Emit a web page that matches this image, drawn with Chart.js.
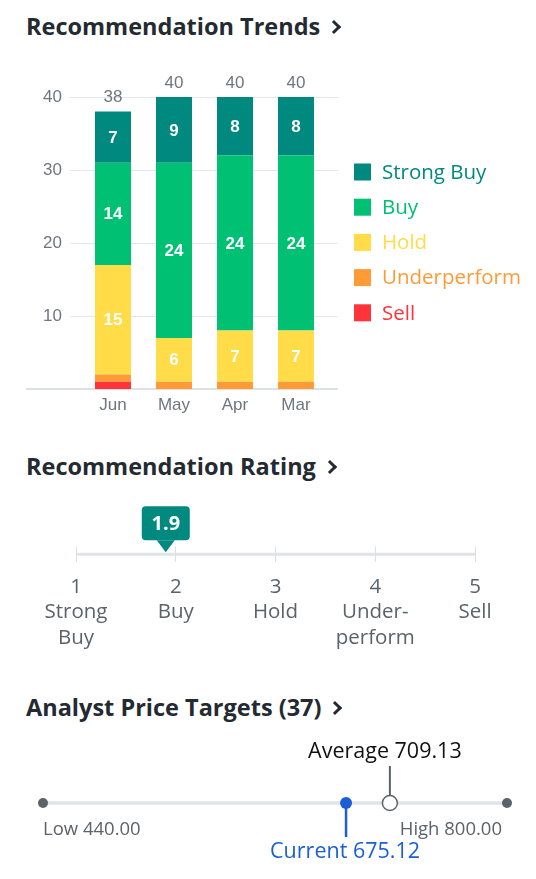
<!DOCTYPE html>
<html>
<head>
<meta charset="utf-8">
<title>Recommendation Trends</title>
<script src="https://cdn.jsdelivr.net/npm/chart.js@4.4.1/dist/chart.umd.min.js"></script>
<style>
  html, body { margin: 0; padding: 0; background: #fff; }
  body { width: 536px; height: 879px; position: relative; overflow: hidden; font-family: "Open Sans", sans-serif; }
  canvas { position: absolute; left: 0; top: 0; }
  .titulo { position: absolute; left: 26px; margin: 0; font-size: 23.5px; font-weight: 700; color: #232a31; line-height: 30px; white-space: nowrap; }
  .titulo .flecha { display: inline-block; width: 7px; height: 7px; border-top: 3px solid #232a31; border-right: 3px solid #232a31; transform: rotate(45deg); margin-left: 9px; position: relative; top: -3px; }
</style>
</head>
<body>
<h2 class="titulo" style="top:11px">Recommendation Trends<span class="flecha"></span></h2>
<h2 class="titulo" style="top:451px">Recommendation Rating<span class="flecha"></span></h2>
<h2 class="titulo" style="top:692px" id="tituloObjetivos"></h2>

<canvas id="tendencias" width="536" height="879"></canvas>
<canvas id="calificacion" width="536" height="879"></canvas>
<canvas id="objetivos" width="536" height="879"></canvas>

<script>
// Datos de las tendencias (de abajo hacia arriba en la pila)
const meses = ['Jun', 'May', 'Apr', 'Mar'];
const strongBuy = [7, 9, 8, 8];
const buy = [14, 24, 24, 24];
const hold = [15, 6, 7, 7];
const underperform = [1, 1, 1, 1];
const sell = [1, 0, 0, 0];
const yTicks = [10, 20, 30, 40];

// Datos de la calificacion
const ratingTicks = [1, 2, 3, 4, 5];
const ratingLabels = [['Strong', 'Buy'], ['Buy'], ['Hold'], ['Under-', 'perform'], ['Sell']];
const rating = 1.9;

// Datos de precios objetivo
const priceTargetCount = 37;
const priceLow = 440.00;
const priceHigh = 800.00;
const priceCurrent = 675.12;
const priceAverage = 709.13;

const colores = {
  strongBuy: '#00897f',
  buy: '#00c073',
  hold: '#ffdc48',
  underperform: '#ff9b37',
  sell: '#ff333a',
  eje: '#6e7780',
  gris: '#5b636a',
  azul: '#1a5fd6'
};

document.getElementById('tituloObjetivos').innerHTML =
  'Analyst Price Targets (' + priceTargetCount + ')<span class="flecha"></span>';

// ---------- Grafico 1: barras apiladas ----------
const series = [
  { label: 'Sell', data: sell, backgroundColor: colores.sell },
  { label: 'Underperform', data: underperform, backgroundColor: colores.underperform },
  { label: 'Hold', data: hold, backgroundColor: colores.hold },
  { label: 'Buy', data: buy, backgroundColor: colores.buy },
  { label: 'Strong Buy', data: strongBuy, backgroundColor: colores.strongBuy }
];

const lineasGuia = {
  id: 'lineasGuia',
  beforeDatasetsDraw(chart) {
    const { ctx, chartArea, scales: { y } } = chart;
    ctx.save();
    ctx.strokeStyle = '#e3e6ea';
    ctx.lineWidth = 1;
    yTicks.forEach((v) => {
      const py = Math.round(y.getPixelForValue(v)) + 0.5;
      ctx.beginPath();
      ctx.moveTo(chartArea.left - 12.5, py);
      ctx.lineTo(chartArea.right + 11.5, py);
      ctx.stroke();
    });
    // linea base mas larga
    const p0 = y.getPixelForValue(0);
    ctx.strokeStyle = '#dde1e6';
    ctx.lineWidth = 2;
    ctx.beginPath();
    ctx.moveTo(26, p0);
    ctx.lineTo(chartArea.right + 11.5, p0);
    ctx.stroke();
    ctx.restore();
  }
};

const etiquetasBarras = {
  id: 'etiquetasBarras',
  afterDatasetsDraw(chart) {
    const { ctx, scales: { y } } = chart;
    ctx.save();
    ctx.textAlign = 'center';
    ctx.textBaseline = 'middle';
    // valores dentro de cada segmento
    ctx.fillStyle = '#fff';
    ctx.font = 'bold 17px "Liberation Sans", Arial, sans-serif';
    chart.data.datasets.forEach((ds, i) => {
      chart.getDatasetMeta(i).data.forEach((bar, j) => {
        const v = ds.data[j];
        if (v < 5) return;
        const p = bar.getProps(['x', 'y', 'base'], true);
        ctx.fillText(String(v), p.x, (p.y + p.base) / 2 + 1);
      });
    });
    // totales encima de cada barra
    ctx.fillStyle = colores.eje;
    ctx.font = '17px "Liberation Sans", Arial, sans-serif';
    const meta = chart.getDatasetMeta(0);
    meses.forEach((m, j) => {
      const total = chart.data.datasets.reduce((s, ds) => s + ds.data[j], 0);
      ctx.fillText(String(total), meta.data[j].x, y.getPixelForValue(total) - 14);
    });
    // leyenda a la derecha
    ctx.textAlign = 'left';
    ctx.font = '20.5px "Open Sans", sans-serif';
    const lx = chart.chartArea.right + 27.5;
    [...chart.data.datasets].reverse().forEach((ds, k) => {
      const cy = 172 + k * 35.2;
      ctx.fillStyle = ds.backgroundColor;
      ctx.fillRect(lx, cy - 8.5, 17, 17);
      ctx.fillText(ds.label, lx + 28, cy + 1);
    });
    ctx.restore();
  }
};

new Chart(document.getElementById('tendencias'), {
  type: 'bar',
  data: { labels: meses, datasets: series },
  options: {
    responsive: false,
    animation: false,
    events: [],
    barPercentage: 0.59,
    categoryPercentage: 1,
    layout: { padding: { top: 97, right: 209.5, bottom: 449, left: 0 } },
    plugins: { legend: { display: false }, tooltip: { enabled: false } },
    scales: {
      x: {
        stacked: true,
        grid: { display: false, drawTicks: false },
        border: { display: false },
        ticks: { color: colores.eje, padding: 6, font: { family: '"Liberation Sans", Arial, sans-serif', size: 17 } },
        afterFit(s) { s.height = 41; }
      },
      y: {
        stacked: true,
        min: 0,
        max: 40,
        grid: { display: false, drawTicks: false },
        border: { display: false },
        ticks: {
          stepSize: 10,
          padding: 20.5,
          color: colores.eje,
          font: { family: '"Liberation Sans", Arial, sans-serif', size: 17 },
          callback: (v) => (yTicks.includes(v) ? v : '')
        },
        afterFit(s) { s.width = 82.5; }
      }
    }
  },
  plugins: [lineasGuia, etiquetasBarras]
});

// ---------- Grafico 2: calificacion ----------
const marcador = {
  id: 'marcador',
  afterDatasetsDraw(chart) {
    const { ctx } = chart;
    const pt = chart.getDatasetMeta(1).data[0];
    const tipY = pt.y - 2;
    const bottom = tipY - 12;
    const w = 48, h = 34;
    ctx.save();
    ctx.fillStyle = colores.strongBuy;
    ctx.beginPath();
    ctx.roundRect(pt.x - w / 2, bottom - h, w, h, 4);
    ctx.fill();
    ctx.beginPath();
    ctx.moveTo(pt.x - 9, bottom);
    ctx.lineTo(pt.x + 9, bottom);
    ctx.lineTo(pt.x, tipY);
    ctx.closePath();
    ctx.fill();
    ctx.fillStyle = '#fff';
    ctx.font = 'bold 20px "Open Sans", sans-serif';
    ctx.textAlign = 'center';
    ctx.textBaseline = 'middle';
    ctx.fillText(rating.toFixed(1), pt.x, bottom - h / 2 + 1);
    ctx.restore();
  }
};

new Chart(document.getElementById('calificacion'), {
  type: 'scatter',
  data: {
    datasets: [
      { type: 'line', data: [{ x: ratingTicks[0], y: 0 }, { x: ratingTicks[ratingTicks.length - 1], y: 0 }], borderColor: '#e0e4e9', borderWidth: 3, pointRadius: 0, order: 10 },
      { data: [{ x: rating, y: 0 }], pointRadius: 0, order: 0 }
    ]
  },
  options: {
    responsive: false,
    animation: false,
    events: [],
    layout: { padding: { top: 546.5, right: 61, bottom: 0, left: 76 } },
    plugins: { legend: { display: false }, tooltip: { enabled: false } },
    scales: {
      x: {
        type: 'linear',
        min: ratingTicks[0],
        max: ratingTicks[ratingTicks.length - 1],
        afterBuildTicks(s) { s.ticks = ratingTicks.map((v) => ({ value: v })); },
        grid: { color: '#dcdfe3', lineWidth: 1, drawTicks: false },
        border: { display: false },
        ticks: {
          padding: 12,
          color: colores.gris,
          font: { family: '"Open Sans", sans-serif', size: 20.5, lineHeight: 1.25 },
          callback: (v) => [String(v), ...ratingLabels[ratingTicks.indexOf(v)]]
        },
        afterFit(s) { s.height = 879 - 562; }
      },
      y: { display: false, min: -1, max: 1 }
    }
  },
  plugins: [marcador]
});

// ---------- Grafico 3: precios objetivo ----------
const etiquetasPrecios = {
  id: 'etiquetasPrecios',
  afterDatasetsDraw(chart) {
    const { ctx } = chart;
    const extremos = chart.getDatasetMeta(0).data;
    const actual = chart.getDatasetMeta(1).data[0];
    const media = chart.getDatasetMeta(2).data[0];
    ctx.save();
    // linea y etiqueta del precio actual
    ctx.strokeStyle = colores.azul;
    ctx.lineWidth = 2.5;
    ctx.beginPath();
    ctx.moveTo(actual.x, actual.y);
    ctx.lineTo(actual.x, actual.y + 34);
    ctx.stroke();
    ctx.textAlign = 'center';
    ctx.textBaseline = 'middle';
    ctx.fillStyle = colores.azul;
    ctx.font = '21.5px "Open Sans", sans-serif';
    ctx.fillText('Current ' + priceCurrent.toFixed(2), actual.x - 1, actual.y + 49);
    // linea y etiqueta del promedio
    ctx.strokeStyle = colores.gris;
    ctx.lineWidth = 2;
    ctx.beginPath();
    ctx.moveTo(media.x, media.y - 8);
    ctx.lineTo(media.x, media.y - 37);
    ctx.stroke();
    ctx.fillStyle = '#111';
    ctx.fillText('Average ' + priceAverage.toFixed(2), media.x - 5, media.y - 51);
    // minimo y maximo
    ctx.fillStyle = colores.gris;
    ctx.font = '18.5px "Open Sans", sans-serif';
    ctx.textAlign = 'left';
    ctx.fillText('Low ' + priceLow.toFixed(2), extremos[0].x, extremos[0].y + 27);
    ctx.textAlign = 'right';
    ctx.fillText('High ' + priceHigh.toFixed(2), extremos[1].x - 5, extremos[1].y + 27);
    ctx.restore();
  }
};

new Chart(document.getElementById('objetivos'), {
  type: 'scatter',
  data: {
    datasets: [
      { type: 'line', data: [{ x: priceLow, y: 0 }, { x: priceHigh, y: 0 }], borderColor: '#e0e4e9', borderWidth: 3.5, pointRadius: 5, pointBackgroundColor: colores.gris, pointBorderWidth: 0, clip: false, order: 10 },
      { data: [{ x: priceCurrent, y: 0 }], pointRadius: 6, pointBackgroundColor: colores.azul, pointBorderWidth: 0, clip: false, order: 1 },
      { data: [{ x: priceAverage, y: 0 }], pointRadius: 7.5, pointBackgroundColor: '#fff', pointBorderColor: colores.gris, pointBorderWidth: 1.5, clip: false, order: 0 }
    ]
  },
  options: {
    responsive: false,
    animation: false,
    events: [],
    layout: { padding: { top: 795, right: 29, bottom: 68, left: 43 } },
    plugins: { legend: { display: false }, tooltip: { enabled: false } },
    scales: {
      x: { type: 'linear', display: false, min: priceLow, max: priceHigh },
      y: { display: false, min: -1, max: 1 }
    }
  },
  plugins: [etiquetasPrecios]
});
</script>
</body>
</html>
